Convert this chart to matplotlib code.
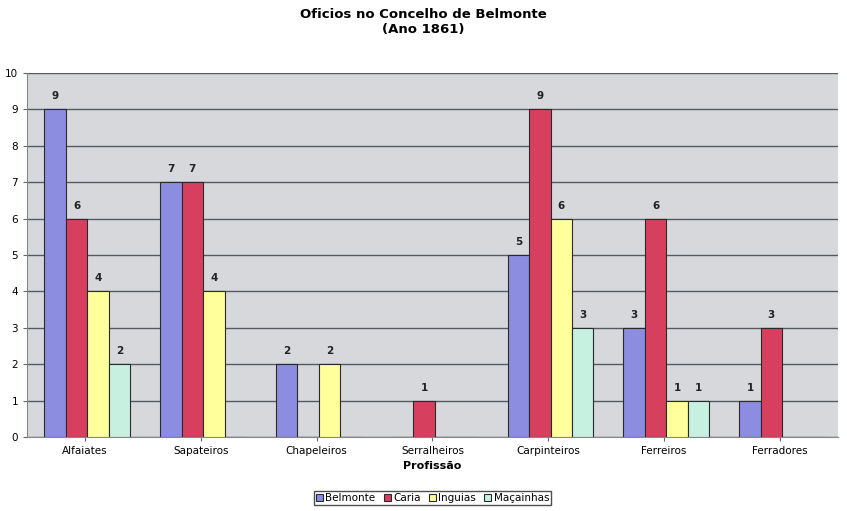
import matplotlib.pyplot as plt
import numpy as np

profissoes = ["Alfaiates", "Sapateiros", "Chapeleiros", "Serralheiros",
              "Carpinteiros", "Ferreiros", "Ferradores"]
belmonte = [9, 7, 2, 0, 5, 3, 1]
caria = [6, 7, 0, 1, 9, 6, 3]
inguias = [4, 4, 2, 0, 6, 1, 0]
macainhas = [2, 0, 0, 0, 3, 1, 0]

series = [("Belmonte", belmonte, "#8c8ce0"),
          ("Caria", caria, "#d6405e"),
          ("Inguias", inguias, "#ffff9c"),
          ("Maçainhas", macainhas, "#c6f0e0")]

fig = plt.figure(figsize=(8.47, 5.11), dpi=100)
ax = fig.add_axes([0.032, 0.145, 0.957, 0.712])
ax.set_facecolor("#d6d8dc")

x = np.arange(len(profissoes))
w = 0.185
for k, (nome, vals, cor) in enumerate(series):
    pos = x + (k - 1.5) * w + 0.02
    ax.bar(pos, vals, w, color=cor, edgecolor="#2a2a2a", linewidth=0.8,
           label=nome, zorder=3)
    for p, v in zip(pos, vals):
        if v > 0:
            ax.text(p, v + 0.22, str(v), ha="center", va="bottom",
                    fontsize=7.5, fontweight="bold", color="#222222")

ax.set_xlim(-0.5, len(profissoes) - 0.5)
ax.set_ylim(0, 10)
ax.set_yticks(range(0, 11))
ax.yaxis.grid(True, color="#555a5e", linewidth=1.0, zorder=0)
ax.set_axisbelow(True)
ax.set_xticks(x)
ax.set_xticklabels(profissoes, fontsize=7.5)
ax.tick_params(axis="y", labelsize=7.5, length=3, color="#666666")
ax.tick_params(axis="x", length=3, color="#666666")
for s in ["top", "right"]:
    ax.spines[s].set_visible(False)
ax.spines["left"].set_color("#888888")
ax.spines["bottom"].set_color("#888888")
ax.set_xlabel("Profissão", fontsize=8, fontweight="bold", labelpad=4)

fig.suptitle("Oficios no Concelho de Belmonte\n(Ano 1861)", fontsize=9.5,
             fontweight="bold", y=0.985)

leg = ax.legend(loc="upper center", bbox_to_anchor=(0.5, -0.135), ncol=4,
                fontsize=7.5, frameon=True, fancybox=False, edgecolor="#222222",
                handlelength=0.7, handleheight=0.7, handletextpad=0.2,
                columnspacing=0.8, borderpad=0.2)

fig.savefig("out.png", dpi=100)
